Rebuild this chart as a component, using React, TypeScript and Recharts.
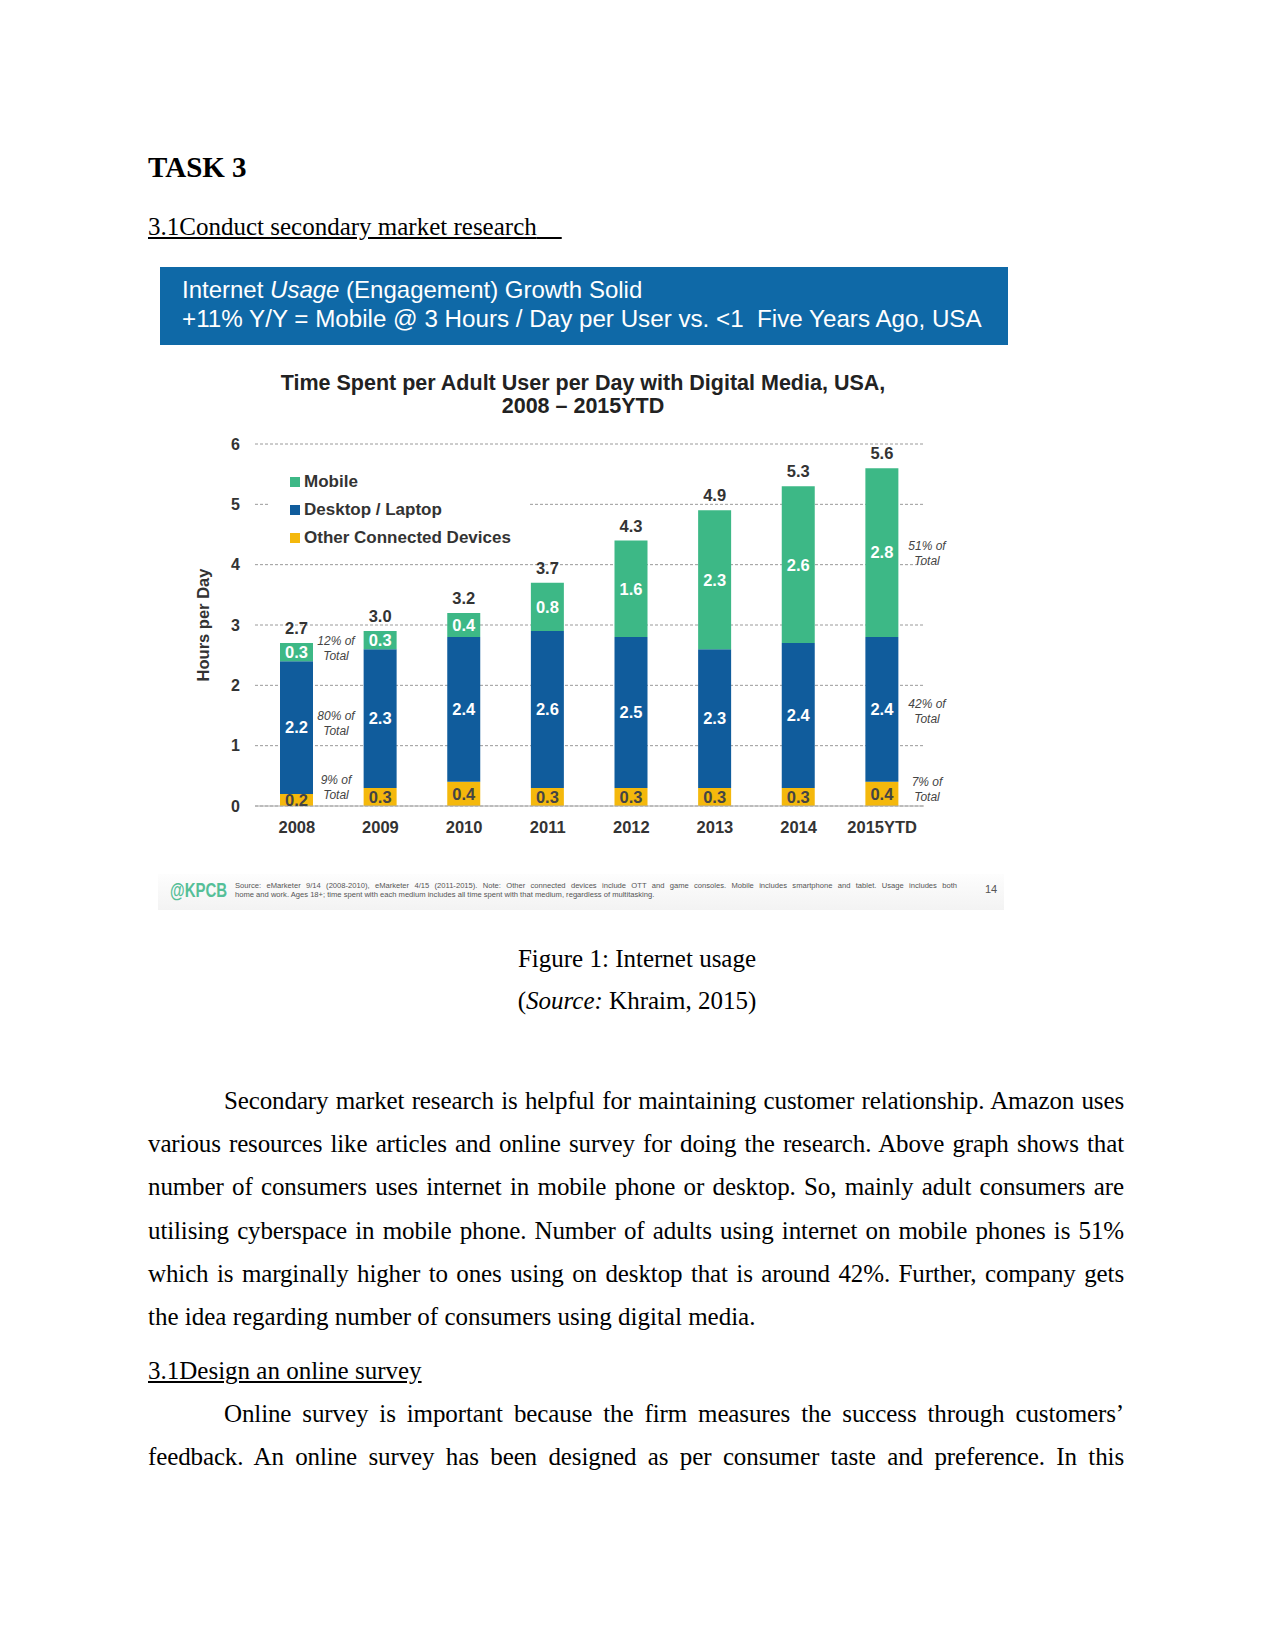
import React from "react";
import {
  BarChart,
  Bar,
  XAxis,
  YAxis,
  CartesianGrid,
  Legend,
  LabelList,
  Label,
} from "recharts";

// values (hours per adult user per day)
const years = ["2008", "2009", "2010", "2011", "2012", "2013", "2014", "2015YTD"];
const otherDevices = [0.2, 0.3, 0.4, 0.3, 0.3, 0.3, 0.3, 0.4];
const desktopLaptop = [2.2, 2.3, 2.4, 2.6, 2.5, 2.3, 2.4, 2.4];
const mobile = [0.3, 0.3, 0.4, 0.8, 1.6, 2.3, 2.6, 2.8];
const totals = ["2.7", "3.0", "3.2", "3.7", "4.3", "4.9", "5.3", "5.6"];
const yTicks = [0, 1, 2, 3, 4, 5, 6];

const legendOrder = ["Mobile", "Desktop / Laptop", "Other Connected Devices"];

const GREEN = "#3db886";
const BLUE = "#105c9c";
const YELLOW = "#f4b80c";

const rows = years.map((year, i) => ({
  year,
  other: otherDevices[i],
  desktop: desktopLaptop[i],
  mobile: mobile[i],
  total: totals[i],
}));

const SANS = "'Liberation Sans', Arial, sans-serif";
const SERIF = "'Liberation Serif', 'Times New Roman', serif";

const fmt = (v: any) => Number(v).toFixed(1);

// absolutely placed line of text, positioned by its baseline
const Line = ({
  x,
  base,
  size,
  width,
  justify,
  center,
  style,
  children,
}: {
  x: number;
  base: number;
  size: number;
  width?: number;
  justify?: boolean;
  center?: boolean;
  style?: React.CSSProperties;
  children: React.ReactNode;
}) => (
  <div
    style={{
      position: "absolute",
      left: center ? x - (width ?? 800) / 2 : x,
      top: base - size * 0.84,
      width: width ?? (center ? 800 : undefined),
      fontSize: size,
      lineHeight: `${size}px`,
      whiteSpace: justify ? "normal" : "nowrap",
      textAlign: justify ? "justify" : center ? "center" : "left",
      textAlignLast: justify ? "justify" : undefined,
      letterSpacing: justify ? "-0.12px" : undefined,
      ...style,
    }}
  >
    {children}
  </div>
);

const ShareNote = ({ cx, top, text }: { cx: number; top: number; text: string }) => (
  <div
    style={{
      position: "absolute",
      left: cx - 30,
      top,
      width: 60,
      textAlign: "center",
      fontFamily: SANS,
      fontStyle: "italic",
      fontSize: 12,
      lineHeight: "14.5px",
      color: "#444",
    }}
  >
    {text}
    <br />
    Total
  </div>
);

const LegendBox = (props: any) => {
  const items = [...(props.payload || [])].sort(
    (a: any, b: any) => legendOrder.indexOf(a.value) - legendOrder.indexOf(b.value)
  );
  return (
    <div style={{ background: "#fff", width: 260, height: 97, paddingTop: 13, boxSizing: "border-box" }}>
      {items.map((it: any) => (
        <div
          key={it.value}
          style={{
            height: 28,
            display: "flex",
            alignItems: "center",
            paddingLeft: 20,
            fontFamily: SANS,
            fontWeight: 700,
            fontSize: 17,
            color: "#333",
          }}
        >
          <span style={{ width: 10, height: 10, background: it.color, marginRight: 4, display: "inline-block" }} />
          {it.value}
        </div>
      ))}
    </div>
  );
};

const UsageChart = () => (
  <div style={{ position: "absolute", left: 150, top: 340, width: 870, height: 530, fontFamily: SANS }}>
    <BarChart
      width={870}
      height={530}
      data={rows}
      margin={{ top: 104, right: 96, bottom: 34, left: 45 }}
      barSize={33}
    >
      <CartesianGrid vertical={false} stroke="#9a9a9a" strokeDasharray="3 2" />
      <XAxis
        dataKey="year"
        height={30}
        axisLine={{ stroke: "#aaa" }}
        tickLine={false}
        tickMargin={9}
        tick={{ fill: "#333", fontSize: 16.5, fontWeight: 700 }}
      />
      <YAxis
        width={60}
        domain={[0, 6]}
        ticks={yTicks}
        axisLine={false}
        tickLine={false}
        tickMargin={9}
        tick={{ fill: "#333", fontSize: 16, fontWeight: 700 }}
      >
        <Label
          value="Hours per Day"
          angle={-90}
          position="insideLeft"
          offset={8}
          style={{ textAnchor: "middle", fill: "#333", fontSize: 16.5, fontWeight: 700 }}
        />
      </YAxis>
      <Legend
        layout="vertical"
        align="center"
        verticalAlign="middle"
        content={LegendBox}
        wrapperStyle={{ left: 120, top: 115, width: 260, height: 97 }}
      />
      <Bar dataKey="other" name="Other Connected Devices" stackId="a" fill={YELLOW} isAnimationActive={false}>
        <LabelList dataKey="other" position="center" formatter={fmt} fill="#444" fontSize={16.5} fontWeight={700} />
      </Bar>
      <Bar dataKey="desktop" name="Desktop / Laptop" stackId="a" fill={BLUE} isAnimationActive={false}>
        <LabelList dataKey="desktop" position="center" formatter={fmt} fill="#fff" fontSize={16.5} fontWeight={700} />
      </Bar>
      <Bar dataKey="mobile" name="Mobile" stackId="a" fill={GREEN} isAnimationActive={false}>
        <LabelList dataKey="mobile" position="center" formatter={fmt} fill="#fff" fontSize={16.5} fontWeight={700} />
        <LabelList dataKey="total" position="top" offset={9} fill="#333" fontSize={16.5} fontWeight={700} />
      </Bar>
    </BarChart>
  </div>
);

const BODY_L = 148;
const BODY_W = 976;
const INDENT = 76;

const para1 = [
  "Secondary market research is helpful for maintaining customer relationship. Amazon uses",
  "various resources like articles and online survey for doing the research. Above graph shows that",
  "number of consumers uses internet in mobile phone or desktop. So, mainly adult consumers are",
  "utilising cyberspace in mobile phone. Number of adults using internet on mobile phones is 51%",
  "which is marginally higher to ones using on desktop that is around 42%. Further, company gets",
  "the idea regarding number of consumers using digital media.",
];
const para2 = [
  "Online survey is important because the firm measures the success through customers\u2019",
  "feedback. An online survey has been designed as per consumer taste and preference. In this",
];

const Paragraph = ({ lines, base, lastLeft }: { lines: string[]; base: number; lastLeft: boolean }) => (
  <>
    {lines.map((t, i) => {
      const last = lastLeft && i === lines.length - 1;
      return (
        <Line
          key={i}
          x={i === 0 ? BODY_L + INDENT : BODY_L}
          base={base + i * 43.2}
          size={25}
          width={i === 0 ? BODY_W - INDENT : BODY_W}
          justify={!last}
        >
          {t}
        </Line>
      );
    })}
  </>
);

export default function App() {
  return (
    <div
      style={{
        position: "absolute",
        left: 0,
        top: 0,
        width: 1275,
        height: 1651,
        background: "#fff",
        fontFamily: SERIF,
        color: "#000",
        overflow: "hidden",
      }}
    >
      <Line x={148} base={177} size={29} style={{ fontWeight: 700 }}>
        TASK 3
      </Line>
      <Line x={148} base={235} size={25} style={{ textDecoration: "underline" }}>
        3.1Conduct secondary market research{"\u00a0\u00a0\u00a0\u00a0"}
      </Line>

      {/* blue slide header */}
      <div style={{ position: "absolute", left: 160, top: 267, width: 848, height: 78, background: "#0f69a7" }} />
      <Line x={182} base={298} size={24} style={{ fontFamily: SANS, color: "#fff" }}>
        Internet <i>Usage</i> (Engagement) Growth Solid
      </Line>
      <Line x={182} base={327} size={24.2} style={{ fontFamily: SANS, color: "#fff", whiteSpace: "pre" }}>
        {"+11% Y/Y = Mobile @ 3 Hours / Day per User vs. <1  Five Years Ago, USA"}
      </Line>

      <UsageChart />

      <Line x={583} base={391} size={21.5} center width={800} style={{ fontFamily: SANS, fontWeight: 700, color: "#222" }}>
        Time Spent per Adult User per Day with Digital Media, USA,
      </Line>
      <Line x={583} base={414} size={21.5} center width={800} style={{ fontFamily: SANS, fontWeight: 700, color: "#222" }}>
        2008 – 2015YTD
      </Line>

      <ShareNote cx={336} top={634} text="12% of" />
      <ShareNote cx={336} top={709} text="80% of" />
      <ShareNote cx={336} top={773} text="9% of" />
      <ShareNote cx={927} top={539} text="51% of" />
      <ShareNote cx={927} top={697} text="42% of" />
      <ShareNote cx={927} top={775} text="7% of" />

      {/* slide footer */}
      <div
        style={{
          position: "absolute",
          left: 158,
          top: 874,
          width: 846,
          height: 36,
          background: "linear-gradient(#fdfdfd, #f3f3f3)",
        }}
      />
      <div
        style={{
          position: "absolute",
          left: 170,
          top: 879,
          fontFamily: SANS,
          fontWeight: 700,
          fontSize: 20,
          lineHeight: "22px",
          color: "#55bf98",
          transform: "scaleX(0.75)",
          transformOrigin: "left center",
        }}
      >
        @KPCB
      </div>
      <Line x={235} base={888} size={7.6} width={722} justify style={{ fontFamily: SANS, color: "#555", letterSpacing: 0 }}>
        Source: eMarketer 9/14 (2008-2010), eMarketer 4/15 (2011-2015). Note: Other connected devices include OTT and game consoles. Mobile includes smartphone and tablet. Usage includes both
      </Line>
      <Line x={235} base={897} size={7.6} style={{ fontFamily: SANS, color: "#555" }}>
        home and work. Ages 18+; time spent with each medium includes all time spent with that medium, regardless of multitasking.
      </Line>
      <Line x={985} base={893} size={11} style={{ fontFamily: SANS, color: "#555" }}>
        14
      </Line>

      <Line x={637} base={967} size={25} center>
        Figure 1: Internet usage
      </Line>
      <Line x={637} base={1009} size={25} center>
        (<i>Source:</i> Khraim, 2015)
      </Line>

      <Paragraph lines={para1} base={1109} lastLeft />

      <Line x={148} base={1379} size={25} style={{ textDecoration: "underline" }}>
        3.1Design an online survey
      </Line>
      <Paragraph lines={para2} base={1422} lastLeft={false} />
    </div>
  );
}
